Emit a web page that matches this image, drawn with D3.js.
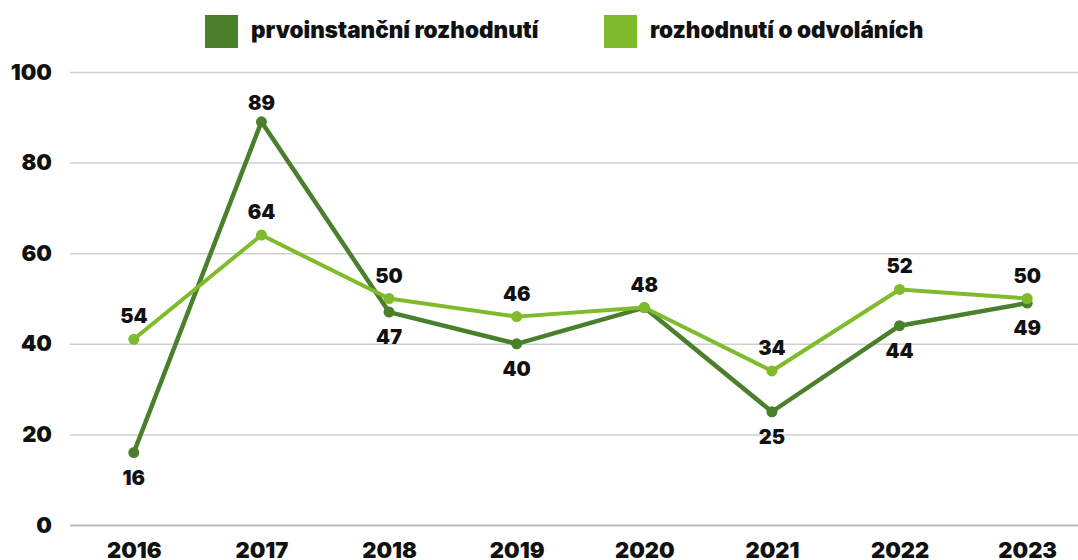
<!DOCTYPE html>
<html>
<head>
<meta charset="utf-8">
<script src="https://cdn.jsdelivr.net/npm/d3@7"></script>
<style>
  body { margin: 0; background: #fff; }
  text { font-family: Inter, "DejaVu Sans", sans-serif; font-weight: 900; fill: #111; }
</style>
</head>
<body>
<div id="chart"></div>
<script>
// data
var years = ["2016", "2017", "2018", "2019", "2020", "2021", "2022", "2023"];
var prvoinstancni = [16, 89, 47, 40, 48, 25, 44, 49];
var odvolani = [41, 64, 50, 46, 48, 34, 52, 50];
// printed labels of the second series (2016 shows 54 although the point sits at 41)
var odvolaniLabels = ["54", "64", "50", "46", "48", "34", "52", "50"];
var yTicks = [0, 20, 40, 60, 80, 100];
var seriesNames = ["prvoinstanční rozhodnutí", "rozhodnutí o odvoláních"];

var svgWidth = 1078;
var svgHeight = 560;
var darkGreen = "#4a7f2c";
var lightGreen = "#7fbb2b";

let svg = d3.select("#chart")
  .append("svg")
  .attr("width", svgWidth)
  .attr("height", svgHeight);

let x = d3.scalePoint()
  .domain(years)
  .range([70, 1091])
  .padding(0.5);

let y = d3.scaleLinear()
  .domain([0, 100])
  .range([525, 72]);

// gridlines + y labels
let yAxis = d3.axisLeft(y)
  .tickValues(yTicks)
  .tickSize(-1010)
  .tickPadding(18)
  .tickFormat(d3.format("d"));

let yg = svg.append("g")
  .attr("transform", "translate(70,0)")
  .call(yAxis);
yg.select(".domain").remove();
yg.selectAll(".tick line").attr("stroke", "#cfcfcf").attr("stroke-width", 1.5);
yg.selectAll(".tick line").filter(d => d === 0).attr("stroke", "#bdbdbd").attr("stroke-width", 2);
yg.selectAll(".tick text")
  .attr("font-size", 22)
  .attr("fill", "#111")
  .style("font-family", "Inter, sans-serif")
  .style("font-weight", 900);

// x labels
let xAxis = d3.axisBottom(x).tickSize(0).tickPadding(0);
let xg = svg.append("g")
  .attr("transform", "translate(0,542)")
  .call(xAxis);
xg.select(".domain").remove();
xg.selectAll(".tick text")
  .attr("font-size", 22)
  .attr("fill", "#111")
  .attr("dy", "0.71em")
  .style("font-family", "Inter, sans-serif")
  .style("font-weight", 900);

// lines
let line = d3.line()
  .x((d, i) => x(years[i]))
  .y(d => y(d));

svg.append("path")
  .datum(prvoinstancni)
  .attr("fill", "none")
  .attr("stroke", darkGreen)
  .attr("stroke-width", 4.5)
  .attr("stroke-linejoin", "round")
  .attr("d", line);

svg.append("path")
  .datum(odvolani)
  .attr("fill", "none")
  .attr("stroke", lightGreen)
  .attr("stroke-width", 4)
  .attr("stroke-linejoin", "round")
  .attr("d", line);

svg.selectAll(".dotDark")
  .data(prvoinstancni)
  .enter()
  .append("circle")
  .attr("cx", (d, i) => x(years[i]))
  .attr("cy", d => y(d))
  .attr("r", 5.5)
  .attr("fill", darkGreen);

svg.selectAll(".dotLight")
  .data(odvolani)
  .enter()
  .append("circle")
  .attr("cx", (d, i) => x(years[i]))
  .attr("cy", d => y(d))
  .attr("r", 5.5)
  .attr("fill", lightGreen);

// value labels
svg.selectAll(".lblLight")
  .data(odvolani)
  .enter()
  .append("text")
  .attr("x", (d, i) => x(years[i]))
  .attr("y", d => y(d) - 16)
  .attr("text-anchor", "middle")
  .attr("font-size", 20)
  .text((d, i) => odvolaniLabels[i]);

// dark labels: above when higher than the light line, skipped when both coincide
svg.selectAll(".lblDark")
  .data(prvoinstancni)
  .enter()
  .append("text")
  .attr("x", (d, i) => x(years[i]))
  .attr("y", (d, i) => d > odvolani[i] ? y(d) - 12 : y(d) + 32)
  .attr("text-anchor", "middle")
  .attr("font-size", 20)
  .text((d, i) => d === odvolani[i] ? "" : d);

// legend
let legend = svg.append("g");
let legendX = [205, 604];
seriesNames.forEach(function(name, i) {
  legend.append("rect")
    .attr("x", legendX[i])
    .attr("y", 15)
    .attr("width", 33)
    .attr("height", 33)
    .attr("fill", i === 0 ? darkGreen : lightGreen);
  legend.append("text")
    .attr("x", legendX[i] + 46)
    .attr("y", 38)
    .attr("font-size", 22.5)
    .text(name);
});
</script>
</body>
</html>
